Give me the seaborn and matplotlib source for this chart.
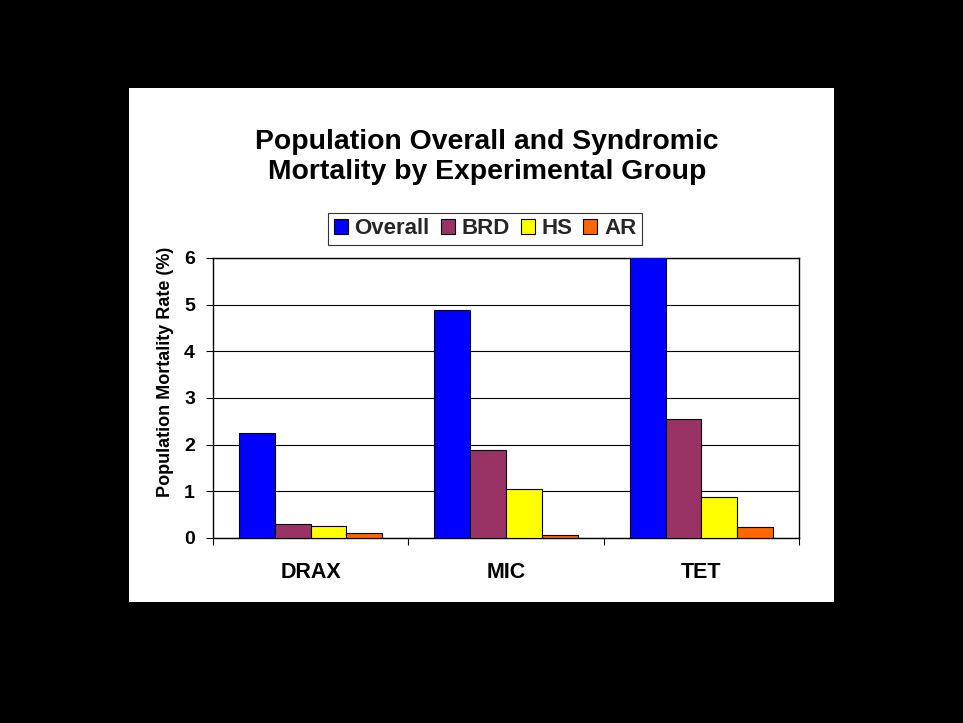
import matplotlib
matplotlib.use("Agg")
import matplotlib.pyplot as plt
import seaborn as sns
import pandas as pd
from matplotlib.patches import Rectangle
from matplotlib.ticker import FixedLocator

# data
groups = ["DRAX", "MIC", "TET"]
series = ["Overall", "BRD", "HS", "AR"]
overall = [2.25, 4.89, 6.02]
brd = [0.30, 1.88, 2.55]
hs = [0.25, 1.04, 0.87]
ar = [0.11, 0.06, 0.24]
colors = ["#0000FF", "#993366", "#FFFF00", "#FF6600"]

rows = []
for name, vals in zip(series, [overall, brd, hs, ar]):
    for g, v in zip(groups, vals):
        rows.append({"Group": g, "Series": name, "Rate": v})
df = pd.DataFrame(rows)

sns.set_theme(style="white")
plt.rcParams['font.family'] = ['Liberation Sans', 'DejaVu Sans']

fig = plt.figure(figsize=(9.63, 7.23), dpi=100, facecolor="black")
# white chart panel on the black slide
fig.patches.append(Rectangle((129 / 963, 1 - 602 / 723), (834 - 129) / 963, (602 - 88) / 723,
                             transform=fig.transFigure, facecolor="white", edgecolor="none", zorder=-5))

ax = fig.add_axes([213 / 963, 1 - 538 / 723, (799 - 213) / 963, (538 - 258) / 723])
ax.set_facecolor("white")

sns.barplot(data=df, x="Group", y="Rate", hue="Series", order=groups, hue_order=series,
            palette=colors, width=0.733, gap=0, edgecolor="black", linewidth=0.8,
            saturation=1, legend=True, ax=ax, zorder=3)

ax.set_xlim(-0.5, 2.5)
ax.set_ylim(0, 6)
ax.set_yticks(range(0, 7))
ax.yaxis.grid(True, color="black", linewidth=0.8, zorder=0)
ax.set_axisbelow(True)
for s in ax.spines.values():
    s.set_color("black")
    s.set_linewidth(1.0)
    s.set_visible(True)

ax.tick_params(axis="y", direction="out", length=5, width=0.8, color="black",
               labelsize=14, pad=8, left=True)
ax.tick_params(axis="x", which="major", length=0, labelsize=15.5, pad=17)
ax.xaxis.set_minor_locator(FixedLocator([-0.5, 0.5, 1.5, 2.5]))
ax.tick_params(axis="x", which="minor", direction="out", length=5, width=0.8,
               color="black", bottom=True)
for lab in ax.get_xticklabels() + ax.get_yticklabels():
    lab.set_fontweight("bold")
    lab.set_color("black")

ax.set_xlabel("")
ax.set_ylabel("Population Mortality Rate (%)", fontsize=13, fontweight="bold", color="black")
ax.yaxis.set_label_coords((174 - 213) / 586, (538 - 372) / 280)

leg = ax.legend(loc="center", bbox_to_anchor=(485 / 963, 1 - 229 / 723),
                bbox_transform=fig.transFigure, ncol=4, frameon=True, fancybox=False,
                prop={"weight": "bold", "size": 16}, handlelength=0.63, handleheight=0.63,
                handletextpad=0.3, columnspacing=0.5, borderpad=0.25, borderaxespad=0)
leg.get_frame().set_edgecolor("black")
leg.get_frame().set_linewidth(0.8)
for h in leg.legend_handles:
    h.set_edgecolor("black")
    h.set_linewidth(0.8)

fig.text(487 / 963, 1 - 157 / 723,
         "Population Overall and Syndromic\nMortality by Experimental Group",
         ha="center", va="center", fontsize=20.4, fontweight="bold", color="black",
         linespacing=1.2)

fig.savefig("out.png", dpi=100, facecolor="black")
